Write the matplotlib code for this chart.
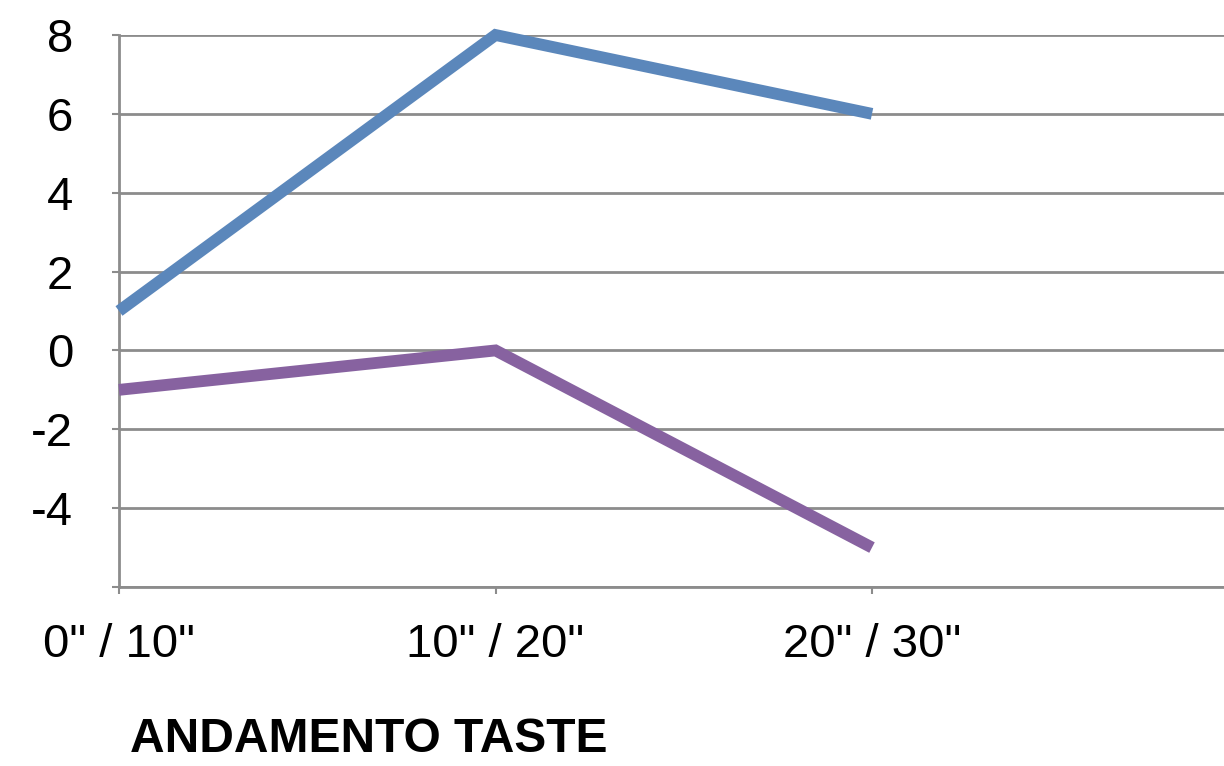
import matplotlib
matplotlib.use("Agg")
import matplotlib.pyplot as plt

categories = ['0" / 10"', '10" / 20"', '20" / 30"']
series_blue = [1, 8, 6]
series_purple = [-1, 0, -5]
yticks = [-6, -4, -2, 0, 2, 4, 6, 8]
ytick_labels = ['', '-4', '-2', '0', '2', '4', '6', '8']
title = "ANDAMENTO TASTE"

plt.rcParams['font.family'] = ['Liberation Sans', 'DejaVu Sans']

W, H = 1224, 766
fig = plt.figure(figsize=(W / 100, H / 100), dpi=100)
spacing = 376.5
left_px, top_px, bottom_px = 119, 35, 587
ax = fig.add_axes([left_px / W, (H - bottom_px) / H, 3 * spacing / W, (bottom_px - top_px) / H])

x = list(range(len(categories)))
grid_c = '#8c8c8c'
ax.set_ylim(-6, 8)
ax.set_xlim(0, 3)
ax.set_yticks(yticks)
ax.set_yticklabels(ytick_labels)
ax.set_xticks(x)
ax.set_xticklabels(categories)
for y in yticks:
    ax.axhline(y, color=grid_c, lw=2, zorder=1)

ax.plot(x, series_blue, color='#5b87bb', lw=8.5, solid_capstyle='butt', solid_joinstyle='miter', zorder=3, clip_on=False)
ax.plot(x, series_purple, color='#8762a0', lw=8.5, solid_capstyle='butt', solid_joinstyle='miter', zorder=3, clip_on=False)

for s in ['top', 'right']:
    ax.spines[s].set_visible(False)
for s in ['left', 'bottom']:
    ax.spines[s].set_color(grid_c)
    ax.spines[s].set_linewidth(2)
ax.tick_params(axis='both', colors=grid_c, width=1.5, length=5, labelcolor='black', labelsize=34)
ax.tick_params(axis='y', pad=28)
ax.tick_params(axis='x', pad=21)

fig.text(130 / W, 1 - 752 / H, title, fontsize=34.5, fontweight='bold', ha='left', va='baseline')

fig.savefig('out.png', dpi=100)
